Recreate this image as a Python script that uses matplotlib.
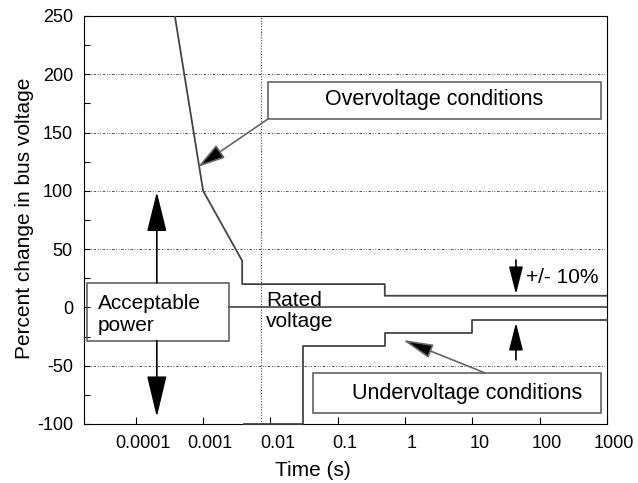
import numpy as np
import matplotlib
matplotlib.use('Agg')
import matplotlib.pyplot as plt
from matplotlib.patches import Rectangle
from matplotlib.transforms import ScaledTranslation

plt.rcParams['font.family'] = ['Liberation Sans', 'DejaVu Sans']
plt.rcParams['axes.unicode_minus'] = False

# tolerance curves (time in s, percent change)
upper_t = [3.8e-4, 1e-3, 3.8e-3, 3.8e-3, 0.5, 0.5, 1000]
upper_v = [250, 100, 40, 20, 20, 10, 10]
lower_t = [0.004, 0.03, 0.03, 0.5, 0.5, 10, 10, 1000]
lower_v = [-100, -100, -33, -33, -22, -22, -11, -11]
rated_t = [0.00241, 1000]
rated_v = [0, 0]
half_cycle = 0.0072

xticks = [1e-4, 1e-3, 1e-2, 1e-1, 1, 10, 100, 1000]
xticklabels = ['0.0001', '0.001', '0.01', '0.1', '1', '10', '100', '1000']
yticks = [-100, -50, 0, 50, 100, 150, 200, 250]
grid_y = [-50, 50, 100, 150, 200]

fig = plt.figure(figsize=(6.38, 4.83), dpi=100)
ax = fig.add_axes([0.1317, 0.1222, 0.8197, 0.8447])
ax.set_xscale('log')
ax.set_xlim(1.7e-5, 1000)
ax.set_ylim(-100, 250)

for g in grid_y:
    ax.axhline(g, color='#333333', lw=0.6, ls=(0, (3, 2, 1, 2, 1, 2)), zorder=1)
ax.axvline(half_cycle, color='#444444', lw=0.8, ls=(0, (1, 1.5)), zorder=1)

ax.plot(upper_t, upper_v, color='#444444', lw=1.3, zorder=3)
ax.plot(lower_t, lower_v, color='#444444', lw=1.3, zorder=3, clip_on=False)
ax.plot(rated_t, rated_v, color='#333333', lw=1.1, zorder=3)

ax.set_xticks(xticks)
ax.set_xticklabels(xticklabels)
ax.xaxis.set_minor_locator(matplotlib.ticker.NullLocator())
ax.set_yticks(yticks)
ax.set_yticks(np.arange(-100, 251, 25), minor=True)
ax.tick_params(axis='x', direction='in', length=5, width=0.8, labelsize=13, pad=8)
ax.tick_params(axis='y', which='both', direction='in', length=4.3, width=0.8,
               labelsize=13, pad=8)
ax.tick_params(axis='y', which='minor', labelleft=False)
shift = ScaledTranslation(0.07, 0, fig.dpi_scale_trans)
for lab in ax.get_xticklabels():
    lab.set_transform(lab.get_transform() + shift)
for s in ax.spines.values():
    s.set_linewidth(0.8)

ax.set_xlabel('Time (s)', fontsize=15, va='center')
ax.xaxis.set_label_coords(0.438, -0.113)
ax.set_ylabel('Percent change in bus voltage', fontsize=15, va='center')
ax.yaxis.set_label_coords(-0.113, 0.505)

# boxes
box_kw = dict(fill=False, ec='#555555', lw=1.1, zorder=4)
ax.add_patch(Rectangle((0.00917, 161.6), 813 - 0.00917, 193.4 - 161.6, **box_kw))
ax.add_patch(Rectangle((1.89e-5, -28.5), 0.00241 - 1.89e-5, 21.2 + 28.5, **box_kw))
ax.add_patch(Rectangle((0.0427, -90.5), 801 - 0.0427, -56.2 + 90.5, **box_kw))

ax.text(2.73, 178.5, 'Overvoltage conditions', fontsize=15.5, ha='center', va='center')
ax.text(8.5, -73.5, 'Undervoltage conditions', fontsize=15.5, ha='center', va='center')
ax.text(2.72e-5, -5.8, 'Acceptable\npower', fontsize=15, ha='left', va='center',
        linespacing=1.2)
ax.text(0.00855, -3.0, 'Rated\nvoltage', fontsize=15, ha='left', va='center',
        linespacing=1.1)
ax.text(62.5, 25.9, '+/- 10%', fontsize=15, ha='left', va='center')

def arrow(tip, tail, hl, hw, ec='black'):
    ax.annotate('', xy=tip, xytext=tail,
                arrowprops=dict(arrowstyle='-|>,head_length=%g,head_width=%g' % (hl, hw),
                                mutation_scale=1, shrinkA=0, shrinkB=0,
                                ec=ec, fc='black', lw=1.2),
                zorder=5)

# acceptable power double arrow
arrow((2.05e-4, 99), (2.05e-4, 21.2), 25, 6.2)
arrow((2.05e-4, -94), (2.05e-4, -28.5), 26, 6.2)
# +/- 10 % arrows
arrow((44.4, 11.3), (44.4, 40.7), 17, 4.3)
arrow((44.4, -13.1), (44.4, -45), 17, 4.3)
# pointers from the boxes
arrow((8.34e-4, 120.5), (0.00917, 161.6), 17, 4.8, ec='#666666')
arrow((0.93, -27.9), (15.4, -56.2), 18.6, 4.4, ec='#666666')

fig.savefig('out.png', dpi=100)
